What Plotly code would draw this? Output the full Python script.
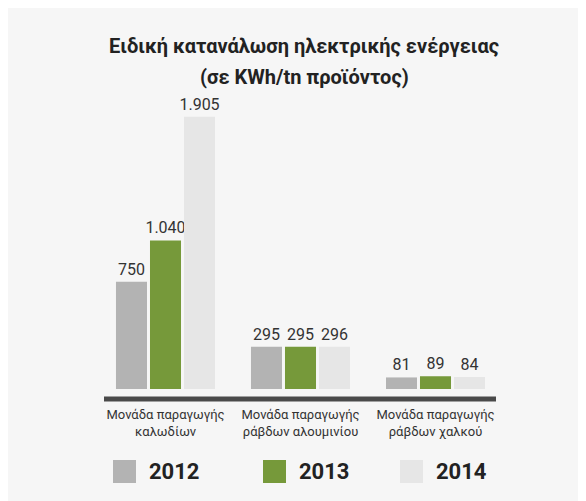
import plotly.graph_objects as go

# data
categories = ["Μονάδα παραγωγής<br>καλωδίων",
              "Μονάδα παραγωγής<br>ράβδων αλουμινίου",
              "Μονάδα παραγωγής<br>ράβδων χαλκού"]
years = ["2012", "2013", "2014"]
values_2012 = [750, 295, 81]
values_2013 = [1040, 295, 89]
values_2014 = [1905, 296, 84]
colors = ["#b3b3b3", "#76993a", "#e6e6e6"]

title_l1 = "Ειδική κατανάλωση ηλεκτρικής ενέργειας"
title_l2 = "(σε KWh/tn προϊόντος)"

# figure geometry (pixels); page body adds an 8px offset
W, H = 586, 501
OFF = 8
L, R, T, B = 90, 91, 95, 120
PW, PH = W - L - R, H - T - B

FONT = "Roboto, sans-serif"


def px_x(x):
    # x in page pixels -> paper coords
    return (x - OFF - L) / PW


def px_y(y):
    return (H - B - (y - OFF)) / PH


def fmt(v):
    return f"{v:,}".replace(",", ".")


fig = go.Figure()
for year, vals, col in zip(years, [values_2012, values_2013, values_2014], colors):
    fig.add_trace(go.Bar(
        x=categories, y=vals, name=year,
        marker=dict(color=col, line=dict(width=0)),
        text=[fmt(v) for v in vals], textposition="outside",
        constraintext="none",
        textfont=dict(family=FONT, size=16, color="#333333"),
        cliponaxis=False,
    ))

shapes = [
    # baseline
    dict(type="line", xref="paper", yref="paper", x0=px_x(104), x1=px_x(496),
         y0=px_y(399), y1=px_y(399), line=dict(color="#4a4a4a", width=5)),
]

annotations = [
    dict(text="<b>" + title_l1 + "</b>", xref="paper", yref="paper",
         x=px_x(304), y=px_y(46), yanchor="middle", showarrow=False,
         font=dict(family=FONT, size=20, color="#222222")),
    dict(text="<b>" + title_l2 + "</b>", xref="paper", yref="paper",
         x=px_x(304), y=px_y(77), yanchor="middle", showarrow=False,
         font=dict(family=FONT, size=20, color="#222222")),
]

# legend drawn manually for large swatches
legend_x = [113, 263, 400]
for lx, year, col in zip(legend_x, years, colors):
    shapes.append(dict(type="rect", xref="paper", yref="paper",
                       x0=px_x(lx), x1=px_x(lx + 23), y0=px_y(483), y1=px_y(460),
                       fillcolor=col, line=dict(width=0)))
    annotations.append(dict(text="<b>" + year + "</b>", xref="paper", yref="paper",
                            x=px_x(lx + 34), y=px_y(471), xanchor="left",
                            yanchor="middle", showarrow=False,
                            font=dict(family=FONT, size=22, color="#222222")))

fig.update_layout(
    width=W, height=H,
    margin=dict(l=L, r=R, t=T, b=B),
    paper_bgcolor="#f6f6f6", plot_bgcolor="rgba(0,0,0,0)",
    barmode="group", bargap=0.244, bargroupgap=0.088,
    showlegend=False,
    shapes=shapes, annotations=annotations,
    font=dict(family=FONT, color="#333333"),
)
fig.update_xaxes(showline=False, showgrid=False, zeroline=False,
                 ticks="", ticklabelstandoff=16, tickangle=0, automargin=False,
                 tickfont=dict(family=FONT, size=13, color="#333333"))
fig.update_yaxes(range=[0, 2002], visible=False, automargin=False)

fig.write_html("out.html")
